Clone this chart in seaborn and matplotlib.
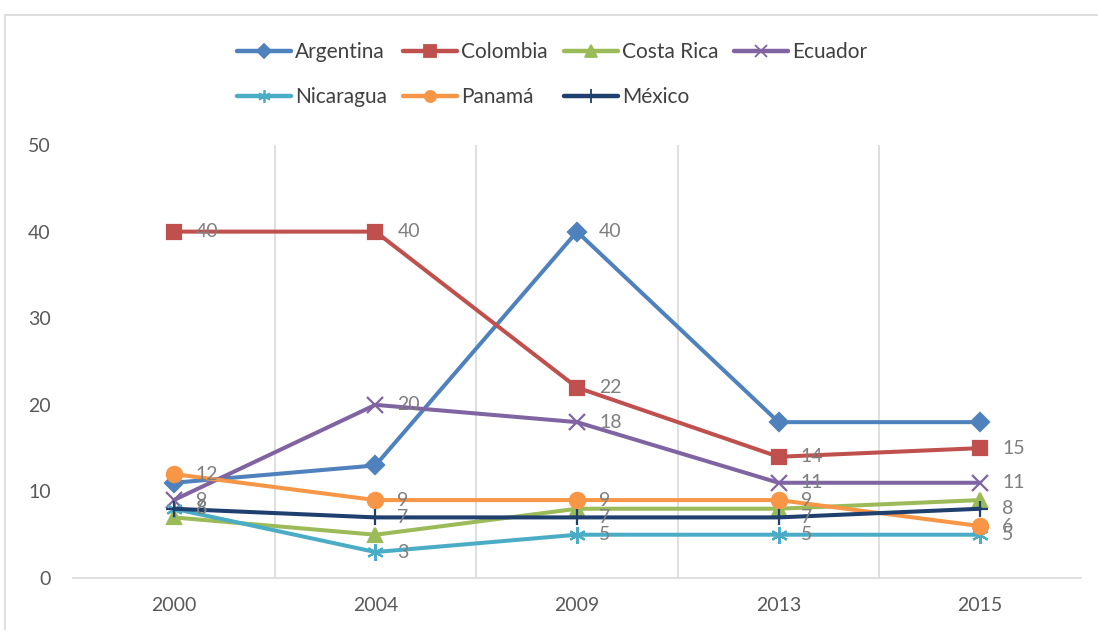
import matplotlib
matplotlib.use("Agg")
import matplotlib.pyplot as plt
import seaborn as sns
import pandas as pd
from matplotlib.patches import Rectangle
from matplotlib.lines import Line2D

years = ["2000", "2004", "2009", "2013", "2015"]
argentina = [11, 13, 40, 18, 18]
colombia = [40, 40, 22, 14, 15]
costa_rica = [7, 5, 8, 8, 9]
ecuador = [9, 20, 18, 11, 11]
nicaragua = [8, 3, 5, 5, 5]
panama = [12, 9, 9, 9, 6]
mexico = [8, 7, 7, 7, 8]

series = {
    "Argentina": argentina,
    "Colombia": colombia,
    "Costa Rica": costa_rica,
    "Ecuador": ecuador,
    "Nicaragua": nicaragua,
    "Panamá": panama,
    "México": mexico,
}
# which points carry a data label
labelled = {
    "Argentina": [False, False, True, False, False],
    "Colombia": [True] * 5,
    "Costa Rica": [False] * 5,
    "Ecuador": [True] * 5,
    "Nicaragua": [True] * 5,
    "Panamá": [True] * 5,
    "México": [True] * 5,
}
colors = {
    "Argentina": "#4f81bd",
    "Colombia": "#c0504d",
    "Costa Rica": "#9bbb59",
    "Ecuador": "#8064a2",
    "Nicaragua": "#4bacc6",
    "Panamá": "#f79646",
    "México": "#1f3f6e",
}
markers = {
    "Argentina": "D",
    "Colombia": "s",
    "Costa Rica": "^",
    "Ecuador": "x",
    "Nicaragua": (6, 2, 0),
    "Panamá": "o",
    "México": "+",
}
msize = {"Argentina": 9, "Colombia": 10, "Costa Rica": 10, "Ecuador": 11,
         "Nicaragua": 12, "Panamá": 11, "México": 12}

rows = []
for name, vals in series.items():
    for y, v in zip(years, vals):
        rows.append({"Año": y, "Valor": v, "País": name})
df = pd.DataFrame(rows)

sns.set_theme(style="white")
plt.rcParams["font.family"] = ["Lato", "DejaVu Sans"]

fig = plt.figure(figsize=(10.98, 6.30), dpi=100)
ax = fig.add_axes([0.0665, 0.0825, 0.918, 0.6873])

fig.patches.append(Rectangle((0.005, -0.05), 1.2, 1 - 15 / 630 + 0.05,
                             transform=fig.transFigure, fill=False,
                             edgecolor="#d9d9d9", linewidth=1.2))

for name in series:
    sub = df[df["País"] == name]
    sns.lineplot(data=sub, x="Año", y="Valor", ax=ax, color=colors[name],
                 linewidth=2.9, marker=markers[name], markersize=msize[name],
                 markeredgecolor=colors[name], markeredgewidth=1.6,
                 label=name, sort=False, legend=False)

for name, vals in series.items():
    for i, (y, v) in enumerate(zip(years, vals)):
        if labelled[name][i]:
            ax.annotate(str(v), xy=(i, v), xytext=(22, 0),
                        textcoords="offset pixels", ha="left", va="center",
                        fontsize=14, color="#7f7f7f")

ax.set_xlim(-0.5, 4.5)
ax.set_ylim(0, 50)
ax.set_yticks([0, 10, 20, 30, 40, 50])
ax.set_xlabel("")
ax.set_ylabel("")
ax.tick_params(axis="y", labelsize=14, labelcolor="#595959", length=0, pad=16)
ax.tick_params(axis="x", labelsize=14, labelcolor="#595959", length=0, pad=14)

for x in [0.5, 1.5, 2.5, 3.5]:
    ax.axvline(x, color="#d9d9d9", linewidth=1.2, zorder=0)
for s in ["top", "right", "left"]:
    ax.spines[s].set_visible(False)
ax.spines["bottom"].set_color("#d9d9d9")
ax.spines["bottom"].set_linewidth(1.2)

order = ["Argentina", "Nicaragua", "Colombia", "Panamá", "Costa Rica", "México", "Ecuador"]
leg_ms = {"Argentina": 7, "Colombia": 8, "Costa Rica": 8, "Ecuador": 8,
          "Nicaragua": 9, "Panamá": 8, "México": 10}
leg_handles = [Line2D([], [], color=colors[o], linewidth=3.2, marker=markers[o],
                      markersize=leg_ms[o], markeredgecolor=colors[o],
                      markeredgewidth=1.3) for o in order]
ax.legend(leg_handles, order, ncol=4, loc="center",
          bbox_to_anchor=(0.503, 0.881), bbox_transform=fig.transFigure,
          frameon=False, fontsize=15, labelcolor="#404040",
          handlelength=2.6, handletextpad=0.2, columnspacing=0.75,
          labelspacing=1.2)

fig.savefig("out.png", dpi=100)
